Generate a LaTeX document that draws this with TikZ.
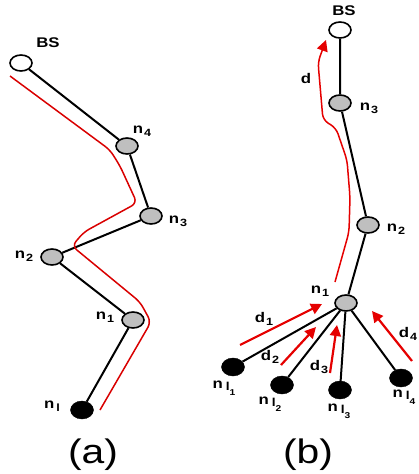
\documentclass[tikz,border=0pt]{standalone}
\usepackage{fontspec}
\usepackage{graphicx}
\setmainfont{Liberation Sans}
\usetikzlibrary{arrows.meta,shapes.geometric}
% wide lettering and sans subscripts for the node labels
\newcommand\wide[1]{\scalebox{1.2}[1]{#1}}
\newcommand\lo[1]{\raisebox{-0.45ex}{\fontsize{10.5}{10.5}\selectfont #1}}
\newcommand\nsub[1]{\wide{n\kern1pt\lo{#1}}}
\newcommand\nleaf[1]{\wide{n\kern2.5pt\raisebox{-0.35ex}{\fontsize{11.5}{11.5}\selectfont l}\raisebox{-1.0ex}{\fontsize{8.5}{8.5}\selectfont #1}}}
\begin{document}
\begin{tikzpicture}[x=1pt,y=-1pt,
  relay/.style={ellipse,draw=black,line width=1.6pt,fill=gray!50,minimum width=22pt,minimum height=16pt,inner sep=0pt},
  base/.style={ellipse,draw=black,line width=1.6pt,fill=white,minimum width=22pt,minimum height=16pt,inner sep=0pt},
  leaf/.style={ellipse,draw=black,fill=black,minimum width=23pt,minimum height=18pt,inner sep=0pt},
  link/.style={draw=black,line width=2pt},
  route/.style={draw=red!85!black,line width=1.5pt,rounded corners=6pt},
  flow/.style={draw=red!90!black,line width=2.2pt,-{Triangle[length=11pt,width=11pt]}},
  lbl/.style={font=\bfseries\fontsize{14}{14}\selectfont,inner sep=0pt},
  subcaption/.style={font=\fontsize{34}{34}\selectfont,inner sep=0pt}]
\useasboundingbox (0,0) rectangle (418,474);

% ---------- (a): a chain of relays ----------
\node[base]  (aBS) at (21,63) {};
\node[relay] (a4)  at (127,146) {};
\node[relay] (a3)  at (151,216) {};
\node[relay] (a2)  at (52,257) {};
\node[relay] (a1)  at (133,320) {};
\node[leaf]  (al)  at (82,410) {};
\draw[link] (aBS) -- (a4) -- (a3) -- (a2) -- (a1) -- (al);

\node[lbl] at (48,43) {\wide{BS}};
\node[lbl] at (142,131) {\nsub{4}};
\node[lbl] at (178,221) {\nsub{3}};
\node[lbl] at (24,256) {\nsub{2}};
\node[lbl] at (105,317) {\nsub{1}};
\node[lbl] at (52,406) {\wide{n\kern1.5pt\lo{l}}};

\coordinate (ra0) at (10,76);
\coordinate (ra1) at (110,150);
\coordinate (ra2) at (120,166);
\coordinate (ra3) at (137,203);
\coordinate (ra4) at (84,232);
\coordinate (ra5) at (72,246);
\coordinate (ra6) at (140,302);
\coordinate (ra7) at (151,322);
\coordinate (ra8) at (100,410);
\draw[route] (ra0) -- (ra1) -- (ra2) -- (ra3) -- (ra4) -- (ra5) -- (ra6) -- (ra7) -- (ra8);

\node[subcaption] at (93,455) {\wide{(a)}};

% ---------- (b): aggregation tree ----------
\node[base]  (bBS) at (340,30) {};
\node[relay] (b3)  at (340,103) {};
\node[relay] (b2)  at (368,225) {};
\node[relay] (b1)  at (346,303) {};
\node[leaf]  (l1)  at (233,367) {};
\node[leaf]  (l2)  at (282,385) {};
\node[leaf]  (l3)  at (340,390) {};
\node[leaf]  (l4)  at (401,378) {};
\draw[link] (bBS) -- (b3) -- (b2) -- (b1);
\foreach \l in {l1,l2,l3,l4} \draw[link] (b1) -- (\l);

\node[lbl] at (344,11) {\wide{BS}};
\node[lbl] at (369,108) {\nsub{3}};
\node[lbl] at (396,229) {\nsub{2}};
\node[lbl] at (320,291) {\nsub{1}};
\node[lbl] at (224,388) {\nleaf{1}};
\node[lbl] at (270,404) {\nleaf{2}};
\node[lbl] at (339,411) {\nleaf{3}};
\node[lbl] at (404,397) {\nleaf{4}};

% data flowing up to the base station
\coordinate (rb0) at (335,282);
\coordinate (rb1) at (349,232);
\coordinate (rb2) at (350,197);
\coordinate (rb3) at (347,160);
\coordinate (rb4) at (336,128);
\coordinate (rb5) at (323,120);
\coordinate (rb6) at (318,62);
\coordinate (rb7) at (326,40);
\draw[flow,line width=1.5pt,rounded corners=6pt] (rb0) -- (rb1) -- (rb2) -- (rb3) -- (rb4) -- (rb5) -- (rb6) -- (rb7);
\node[lbl] at (306,78) {\wide{d}};

% data flowing from the leaves to n1
\coordinate (s1) at (240,345); \coordinate (t1) at (322,304);
\coordinate (s2) at (281,365); \coordinate (t2) at (316,327);
\coordinate (s3) at (330,373); \coordinate (t3) at (337,325);
\coordinate (s4) at (412,361); \coordinate (t4) at (372,311);
\draw[flow] (s1) -- (t1);
\draw[flow] (s2) -- (t2);
\draw[flow] (s3) -- (t3);
\draw[flow] (s4) -- (t4);
\node[lbl] at (264,319) {\wide{d\kern1pt\lo{1}}};
\node[lbl] at (270,357) {\wide{d\kern1pt\lo{2}}};
\node[lbl] at (319,367) {\wide{d\kern1pt\lo{3}}};
\node[lbl] at (408,334) {\wide{d\kern1pt\lo{4}}};

\node[subcaption] at (308,455) {\wide{(b)}};
\end{tikzpicture}
\end{document}
